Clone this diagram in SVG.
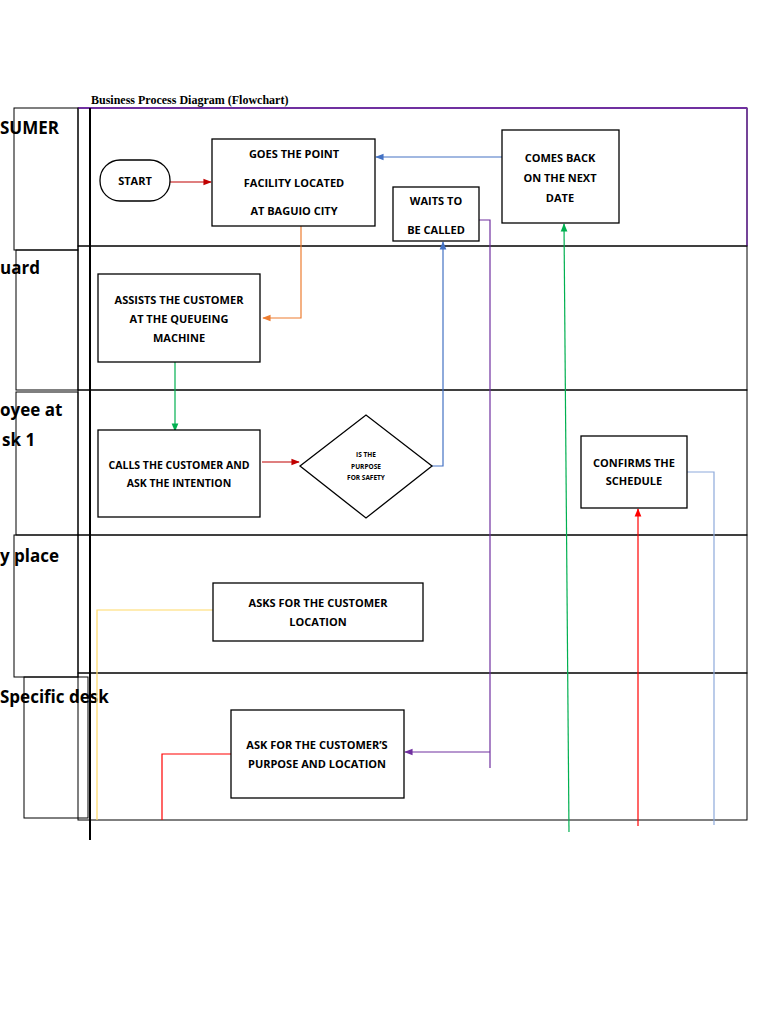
<svg xmlns="http://www.w3.org/2000/svg" width="768" height="1024" viewBox="0 0 768 1024">
<style>
.b{fill:#fff;stroke:#000;stroke-width:1.3}
.l{fill:none;stroke:#000;stroke-width:1}
.t{font-family:"Open Sans","Liberation Sans",sans-serif;font-weight:bold;font-size:11px;text-anchor:middle;fill:#000}
.s{font-size:10.5px}
.d{font-size:6.5px}
.h{font-family:"Open Sans","Liberation Sans",sans-serif;font-weight:bold;font-size:17px;fill:#000}
.c{fill:none;stroke-width:1.2}
</style>
<defs>
<marker id="ar" viewBox="0 0 10 10" refX="9" refY="5" markerWidth="7" markerHeight="7" orient="auto-start-reverse"><path d="M0,1 L10,5 L0,9 Z" fill="context-stroke"/></marker>
</defs>
<rect width="768" height="1024" fill="#fff"/>
<text x="91" y="104" font-family="Liberation Serif,serif" font-weight="bold" font-size="12">Business Process Diagram (Flowchart)</text>
<g id="lanes">
<rect x="78" y="108" width="669" height="138" class="l"/>
<line x1="78" y1="108" x2="747" y2="108" stroke="#7030a0" stroke-width="2"/>
<line x1="747" y1="108" x2="747" y2="246" stroke="#7030a0" stroke-width="1.5"/>
<rect x="78" y="246" width="669" height="144" class="l"/>
<rect x="78" y="390" width="669" height="145" class="l"/>
<rect x="78" y="535" width="669" height="138" class="l"/>
<rect x="78" y="673" width="669" height="147" class="l"/>
<rect x="14" y="108" width="64" height="142" class="l"/>
<rect x="16" y="250" width="62" height="140" class="l"/>
<rect x="16" y="392" width="62" height="143" class="l"/>
<rect x="14" y="535" width="64" height="142" class="l"/>
<rect x="24" y="677" width="64" height="141" class="l"/>
<line x1="90" y1="108" x2="90" y2="840" stroke="#000" stroke-width="2"/>
<text x="0" y="134" class="h">SUMER</text>
<text x="0" y="274" class="h">uard</text>
<text x="0" y="416" class="h">oyee at</text>
<text x="2" y="446" class="h">sk 1</text>
<text x="0" y="562" class="h">y place</text>
<text x="0" y="703" class="h">Specific desk</text>
</g>
<g id="connectors">
<line x1="170" y1="182" x2="211" y2="182" class="c" stroke="#c00000" marker-end="url(#ar)"/>
<line x1="502" y1="157" x2="376" y2="157" class="c" stroke="#4472c4" marker-end="url(#ar)"/>
<polyline points="301,226 301,318 263,318" class="c" stroke="#ed7d31" marker-end="url(#ar)"/>
<line x1="175" y1="362" x2="175" y2="431" class="c" stroke="#00b050" marker-end="url(#ar)"/>
<line x1="262" y1="462" x2="299" y2="462" class="c" stroke="#c00000" marker-end="url(#ar)"/>
<polyline points="432,466 443,466 443,242" class="c" stroke="#4472c4" marker-end="url(#ar)"/>
<polyline points="479,220 490,220 490,768" class="c" stroke="#7030a0"/>
<line x1="490" y1="752" x2="405" y2="752" class="c" stroke="#7030a0" marker-end="url(#ar)"/>
<polyline points="687,472 714,472 714,825" class="c" stroke="#8eaadb"/>
<line x1="638" y1="826" x2="638" y2="509" class="c" stroke="#ff0000" marker-end="url(#ar)"/>
<line x1="569" y1="832" x2="564" y2="224" class="c" stroke="#00b050" marker-end="url(#ar)"/>
<polyline points="213,610 97,610 97,820" class="c" stroke="#ffd966"/>
<polyline points="231,754 162,754 162,820" class="c" stroke="#ff0000"/>
</g>
<g id="start"><rect x="100" y="160" width="70" height="41" rx="20" class="b"/><text x="135" y="185" class="t">START</text></g>
<g id="goes"><rect x="212" y="139" width="163" height="87" class="b"/><text x="294" y="158" class="t">GOES THE POINT</text><text x="294" y="187" class="t">FACILITY LOCATED</text><text x="294" y="215" class="t">AT BAGUIO CITY</text></g>
<g id="waits"><rect x="393" y="187" width="86" height="54" class="b"/><text x="436" y="205" class="t">WAITS TO</text><text x="436" y="234" class="t">BE CALLED</text></g>
<g id="comes"><rect x="502" y="130" width="117" height="93" class="b"/><text x="560" y="162" class="t">COMES BACK</text><text x="560" y="182" class="t">ON THE NEXT</text><text x="560" y="202" class="t">DATE</text></g>
<g id="assists"><rect x="98" y="274" width="162" height="88" class="b"/><text x="179" y="304" class="t">ASSISTS THE CUSTOMER</text><text x="179" y="323" class="t">AT THE QUEUEING</text><text x="179" y="342" class="t">MACHINE</text></g>
<g id="calls"><rect x="98" y="430" width="162" height="87" class="b"/><text x="179" y="469" class="t s">CALLS THE CUSTOMER AND</text><text x="179" y="487" class="t s">ASK THE INTENTION</text></g>
<g id="decision"><polygon points="300,466 366,415 432,466 366,518" class="b"/><text x="366" y="457" class="t d">IS THE</text><text x="366" y="469" class="t d">PURPOSE</text><text x="366" y="480" class="t d">FOR SAFETY</text></g>
<g id="confirms"><rect x="581" y="436" width="106" height="72" class="b"/><text x="634" y="467" class="t">CONFIRMS THE</text><text x="634" y="485" class="t">SCHEDULE</text></g>
<g id="asks"><rect x="213" y="583" width="210" height="58" class="b"/><text x="318" y="607" class="t">ASKS FOR THE CUSTOMER</text><text x="318" y="626" class="t">LOCATION</text></g>
<g id="askfor"><rect x="231" y="710" width="173" height="88" class="b"/><text x="317" y="749" class="t">ASK FOR THE CUSTOMER’S</text><text x="317" y="768" class="t">PURPOSE AND LOCATION</text></g>
</svg>
